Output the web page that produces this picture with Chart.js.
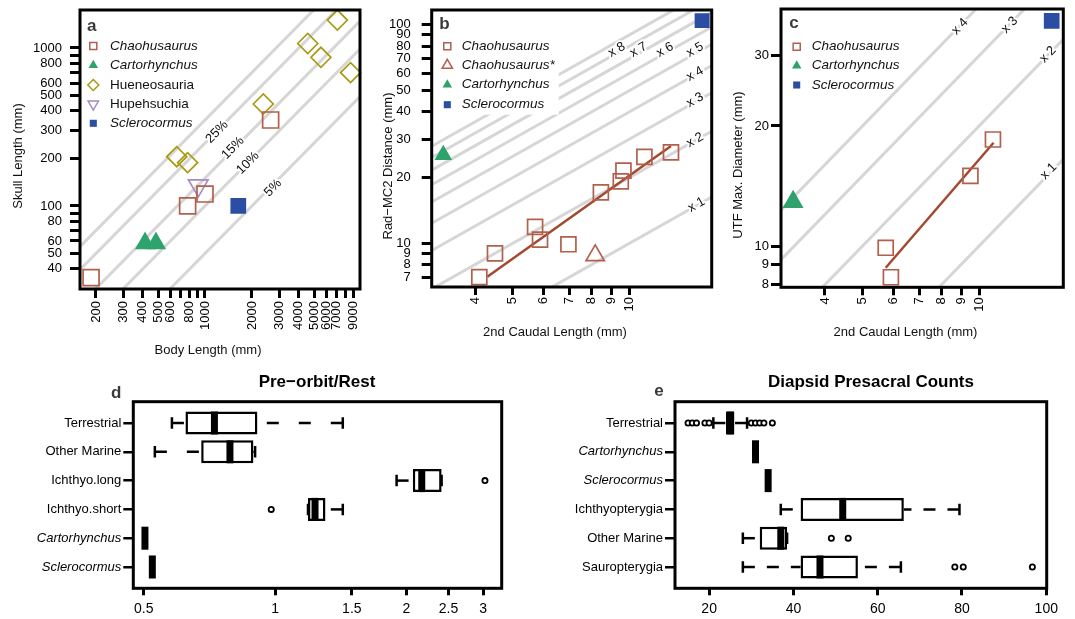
<!DOCTYPE html>
<html>
<head>
<meta charset="utf-8">
<title>Chaohusaurus / Sclerocormus comparison figure</title>
<script src="https://cdn.jsdelivr.net/npm/chart.js@4.4.1/dist/chart.umd.min.js"></script>
<style>
  html, body { margin:0; padding:0; background:#fff; }
  #fig { position:relative; width:1075px; height:619px; overflow:hidden; background:#fff; }
  #fig canvas { position:absolute; }
</style>
</head>
<body>
<div id="fig">
  <canvas id="pa" width="365" height="360" style="left:0;top:0"></canvas>
  <canvas id="pb" width="355" height="345" style="left:365px;top:0"></canvas>
  <canvas id="pc" width="350" height="345" style="left:725px;top:0"></canvas>
  <canvas id="pd" width="540" height="259" style="left:0;top:360px"></canvas>
  <canvas id="pe" width="535" height="259" style="left:540px;top:360px"></canvas>
</div>
<script>
// ================= DATA =================
// Panel a : skull length vs body length (mm)
const aBodyTicks  = [200,300,400,500,600,700,800,900,1000,2000,3000,4000,5000,6000,7000,8000,9000];
const aBodyLabels = ['200','300','400','500','600','','800','','1000','2000','3000','4000','5000','6000','7000','','9000'];
const aSkullTicks  = [40,50,60,70,80,90,100,200,300,400,500,600,700,800,900,1000];
const aSkullLabels = ['40','50','60','','80','','100','200','300','400','500','600','','800','','1000'];
const aChaoBody  = [186, 774, 1000, 2636];
const aChaoSkull = [35.2, 100, 119, 350];
const aCartBody  = [413, 485];
const aCartSkull = [58, 58];
const aHuenBody  = [659, 774, 2365, 4557, 5535, 7058, 8580];
const aHuenSkull = [205, 188, 442, 1068, 873, 1503, 698];
const aHupeBody  = [906];
const aHupeSkull = [134.6];
const aScleBody  = [1635];
const aScleSkull = [100];
const aRatios      = [0.35, 0.25, 0.15, 0.10, 0.05];
const aRatioTexts  = ['25%', '15%', '10%', '5%'];
const aRatioTextBody  = [1194, 1512, 1886, 2729];
const aRatioTextSkull = [294, 233, 187, 130];

// Panel b : Rad-MC2 distance vs 2nd caudal length (mm)
const bCaudalTicks = [4,5,6,7,8,9,10];
const bRadTicks    = [7,8,9,10,20,30,40,50,60,70,80,90,100];
const bChaoCaudal  = [4.1, 4.5, 5.71, 5.88, 6.96, 8.44, 9.5, 9.65, 10.93, 12.8];
const bChaoRad     = [7.0, 9.0, 11.9, 10.4, 9.9, 17.1, 19.2, 21.5, 24.9, 26.1];
const bChaoStarCaudal = [8.16];
const bChaoStarRad    = [8.8];
const bCartCaudal = [3.31];
const bCartRad    = [25.4];
const bScleCaudal = [15.4];
const bScleRad    = [104.6];
const bFitCaudal  = [4.3, 12.8];
const bFitRad     = [7.03, 27.9];
const bMultiples  = [1,2,3,4,5,6,7,8,9];
const bMultTexts  = ['x 8','x 7','x 6','x 5','x 4','x 3','x 2','x 1'];
const bMultTextCaudal = [9.28, 10.55, 12.36, 14.77, 14.77, 14.77, 14.77, 14.9];
const bMultTextRad    = [76.8, 76.8, 76.8, 76.8, 59.6, 45.3, 29.7, 15.0];

// Panel c : UTF max. diameter vs 2nd caudal length (mm)
const cCaudalTicks = [4,5,6,7,8,9,10];
const cUtfTicks    = [8,9,10,20,30];
const cChaoCaudal  = [5.74, 5.92, 9.5, 10.86];
const cChaoUtf     = [9.9, 8.35, 15.0, 18.5];
const cCartCaudal  = [3.31];
const cCartUtf     = [12.9];
const cScleCaudal  = [15.4];
const cScleUtf     = [36.7];
const cFitCaudal   = [5.74, 10.9];
const cFitUtf      = [8.82, 18.16];
const cMultiples   = [1,2,3,4];
const cMultTexts   = ['x 4','x 3','x 2','x 1'];
const cMultTextCaudal = [8.92, 12.0, 15.07, 15.13];
const cMultTextUtf    = [35.5, 35.8, 30.2, 15.4];

// Panel d : Pre-orbit / Rest (box plot statistics)
const dGroups = ['Terrestrial','Other Marine','Ichthyo.long','Ichthyo.short','Cartorhynchus','Sclerocormus'];
const dLow  = [0.58, 0.53, 1.90, 1.19, 0.503, 0.523];
const dQ1   = [0.623, 0.677, 2.07, 1.19, 0.503, 0.523];
const dMed  = [0.726, 0.788, 2.17, 1.235, 0.503, 0.523];
const dQ3   = [0.911, 0.892, 2.41, 1.305, 0.503, 0.523];
const dHigh = [1.43, 0.90, 2.41, 1.43, 0.503, 0.523];
const dOutGroup = [3, 4];
const dOutValue = [3.03, 0.98];
const dTicks  = [0.5, 1, 1.5, 2, 2.5, 3];
const dLabels = ['0.5','1','1.5','2','2.5','3'];

// Panel e : Diapsid presacral counts (box plot statistics)
const eGroups = ['Terrestrial','Cartorhynchus','Sclerocormus','Ichthyopterygia','Other Marine','Sauropterygia'];
const eLow  = [21, 31, 34, 37, 28, 28];
const eQ1   = [24, 31, 34, 41.7, 32, 41.7];
const eMed  = [25, 31, 34, 51.7, 37, 46.3];
const eQ3   = [26, 31, 34, 66.2, 38.5, 55.3];
const eHigh = [29, 31, 34, 79.4, 38.5, 65.5];
const eOutGroup = [1,1,1,1,1,1,1,1,1,1, 5,5, 6,6,6];
const eOutValue = [15,16,17,19,20,30,31,32,33,35, 49,53, 78.3,80.3,96.7];
const eTicks  = [20, 40, 60, 80, 100];
const eLabels = ['20','40','60','80','100'];

const italicNames = ['Chaohusaurus','Chaohusaurus*','Cartorhynchus','Sclerocormus'];

// ================= STYLE =================
const FONT = '"Liberation Sans", Arial, Helvetica, sans-serif';
const GREY = '#d6d6d6';
const COL_CHAO = '#B0604C', COL_FIT = '#A3492F', COL_CART = '#2EA36B',
      COL_HUEN = '#A89A14', COL_HUPE = '#A88BC0', COL_SCLE = '#2B4EA3';
Chart.defaults.font.family = FONT;
Chart.defaults.color = '#000';

function pts(xs, ys) { return xs.map((x, i) => ({ x: x, y: ys[i] })); }

function markers(label, xs, ys, style, color, filled, r, rot) {
  return {
    type: 'scatter', label: label, data: pts(xs, ys), order: 1, clip: false,
    pointStyle: style, pointRadius: r, pointHoverRadius: r, pointRotation: rot || 0,
    pointBorderColor: color, pointBackgroundColor: filled ? color : 'rgba(0,0,0,0)',
    pointBorderWidth: 1.7, borderColor: color, backgroundColor: filled ? color : 'rgba(0,0,0,0)'
  };
}
function guide(k, xmin, xmax) {
  return { type: 'line', data: [{ x: xmin, y: k * xmin }, { x: xmax, y: k * xmax }],
    borderColor: GREY, borderWidth: 3, pointRadius: 0, order: 5, clip: 0, tension: 0 };
}
function fitLine(xs, ys) {
  return { type: 'line', data: pts(xs, ys), borderColor: COL_FIT, borderWidth: 2.5,
    pointRadius: 0, order: 2, clip: 0, tension: 0 };
}

function axis(o) {
  return {
    type: o.type, position: o.pos, min: o.min, max: o.max, reverse: !!o.reverse, offset: false,
    afterBuildTicks: s => { s.ticks = o.ticks.map(v => ({ value: v })); },
    afterFit: s => {
      if (o.pos === 'bottom') s.height = o.size; else s.width = o.size;
      s.paddingLeft = 0; s.paddingRight = 0; s.paddingTop = 0; s.paddingBottom = 0;
    },
    ticks: { autoSkip: false, padding: o.pad, color: '#000', font: o.font,
      callback: o.cb, maxRotation: o.rot || 0, minRotation: o.rot || 0, align: 'center' },
    grid: { display: true, drawOnChartArea: false, drawTicks: true, tickLength: o.tl,
      tickWidth: o.tw, lineWidth: o.tw, tickColor: '#000', color: '#000', offset: false },
    border: { display: false },
    title: { display: false }
  };
}

function shapePath(ctx, style, x, y, r, rot) {
  ctx.beginPath();
  if (style === 'rect') {
    const s = r * Math.SQRT1_2; ctx.rect(x - s, y - s, 2 * s, 2 * s);
  } else if (style === 'rectRot') {
    ctx.moveTo(x, y - r); ctx.lineTo(x + r, y); ctx.lineTo(x, y + r); ctx.lineTo(x - r, y); ctx.closePath();
  } else {
    const a0 = (rot || 0) * Math.PI / 180;
    for (let k = 0; k < 3; k++) {
      const a = a0 + k * 2 * Math.PI / 3;
      const px = x + Math.sin(a) * r, py = y - Math.cos(a) * r;
      if (k === 0) ctx.moveTo(px, py); else ctx.lineTo(px, py);
    }
    ctx.closePath();
  }
}

function makeDeco(cfg) {
  return {
    id: 'deco',
    afterDatasetsDraw(chart) {
      const ctx = chart.ctx, ca = chart.chartArea;
      ctx.save();
      ctx.beginPath(); ctx.rect(ca.left, ca.top, ca.right - ca.left, ca.bottom - ca.top); ctx.clip();
      // labels on the guide lines
      if (cfg.guideTexts) {
        const xs = chart.scales.x, ys = chart.scales.y;
        cfg.guideTexts.forEach(g => {
          const x0 = xs.getPixelForValue(g.x), y0 = ys.getPixelForValue(g.y);
          const x1 = xs.getPixelForValue(g.x * 2), y1 = ys.getPixelForValue(g.y * 2);
          const ang = Math.atan2(y1 - y0, x1 - x0);
          ctx.save(); ctx.translate(x0, y0); ctx.rotate(ang);
          ctx.font = '13px ' + FONT; ctx.textAlign = 'center'; ctx.textBaseline = 'middle';
          ctx.lineWidth = 4; ctx.strokeStyle = '#fff'; ctx.lineJoin = 'round';
          ctx.strokeText(g.text, 0, 0);
          ctx.fillStyle = '#111'; ctx.fillText(g.text, 0, 0);
          ctx.restore();
        });
      }
      ctx.restore();
      // legend
      if (cfg.legend) {
        const L = cfg.legend;
        ctx.save();
        ctx.font = 'italic 13.5px ' + FONT;
        if (L.bg) {
          let w = 0;
          L.items.forEach(it => {
            ctx.font = (it.italic ? 'italic ' : '') + '13.5px ' + FONT;
            w = Math.max(w, ctx.measureText(it.label).width);
          });
          ctx.fillStyle = '#fff';
          const top = L.rows[0] - 11, bot = L.rows[L.rows.length - 1] + 10;
          ctx.fillRect(L.mx - 8, top, L.tx + w + 4 - (L.mx - 8), bot - top);
        }
        L.items.forEach((it, i) => {
          const y = L.rows[i];
          shapePath(ctx, it.style, L.mx, y, it.r, it.rot);
          if (it.filled) { ctx.fillStyle = it.color; ctx.fill(); }
          else { ctx.lineWidth = 1.5; ctx.strokeStyle = it.color; ctx.stroke(); }
          ctx.font = (it.italic ? 'italic ' : '') + '13.5px ' + FONT;
          ctx.fillStyle = '#111'; ctx.textAlign = 'left'; ctx.textBaseline = 'middle';
          ctx.fillText(it.label, L.tx, y);
        });
        ctx.restore();
      }
    },
    afterDraw(chart) {
      const ctx = chart.ctx, ca = chart.chartArea;
      ctx.save();
      ctx.lineWidth = 3; ctx.strokeStyle = '#000';
      ctx.strokeRect(ca.left, ca.top, ca.right - ca.left, ca.bottom - ca.top);
      if (cfg.letter) {
        ctx.font = 'bold 17px ' + FONT; ctx.fillStyle = '#3a3a3a';
        ctx.textAlign = 'left'; ctx.textBaseline = 'alphabetic';
        ctx.fillText(cfg.letter.text, cfg.letter.x, cfg.letter.y);
      }
      if (cfg.title) {
        ctx.font = 'bold 17px ' + FONT; ctx.fillStyle = '#000';
        ctx.textAlign = 'center'; ctx.textBaseline = 'alphabetic';
        ctx.fillText(cfg.title.text, cfg.title.x, cfg.title.y);
      }
      ctx.font = '13px ' + FONT; ctx.fillStyle = '#111';
      ctx.textAlign = 'center'; ctx.textBaseline = 'middle';
      if (cfg.xTitle) ctx.fillText(cfg.xTitle.text, cfg.xTitle.x, cfg.xTitle.y);
      if (cfg.yTitle) {
        ctx.save(); ctx.translate(cfg.yTitle.x, cfg.yTitle.y); ctx.rotate(-Math.PI / 2);
        ctx.fillText(cfg.yTitle.text, 0, 0); ctx.restore();
      }
      ctx.restore();
    }
  };
}

function makeBoxExtras(lo, q1, med, q3, hi, dash) {
  return {
    id: 'boxExtras',
    afterDatasetsDraw(chart) {
      const ctx = chart.ctx, xs = chart.scales.x, ys = chart.scales.y;
      const step = Math.abs(ys.getPixelForValue(2) - ys.getPixelForValue(1));
      const half = step * 0.4, cap = half * 0.5;
      ctx.save();
      ctx.strokeStyle = '#000'; ctx.lineCap = 'butt';
      for (let i = 0; i < q1.length; i++) {
        const py = ys.getPixelForValue(i + 1);
        const X = v => xs.getPixelForValue(v);
        ctx.lineWidth = 2.5;
        ctx.setLineDash(dash);
        if (lo[i] < q1[i]) { ctx.beginPath(); ctx.moveTo(X(lo[i]), py); ctx.lineTo(X(q1[i]), py); ctx.stroke(); }
        if (hi[i] > q3[i]) { ctx.beginPath(); ctx.moveTo(X(hi[i]), py); ctx.lineTo(X(q3[i]), py); ctx.stroke(); }
        ctx.setLineDash([]);
        ctx.beginPath();
        ctx.moveTo(X(lo[i]), py - cap); ctx.lineTo(X(lo[i]), py + cap);
        ctx.moveTo(X(hi[i]), py - cap); ctx.lineTo(X(hi[i]), py + cap);
        ctx.stroke();
        ctx.lineWidth = 7;
        ctx.beginPath(); ctx.moveTo(X(med[i]), py - half); ctx.lineTo(X(med[i]), py + half); ctx.stroke();
      }
      ctx.restore();
    }
  };
}

const base = (pad) => ({
  responsive: false, animation: false, devicePixelRatio: 1, events: [],
  layout: { padding: pad, autoPadding: false },
  plugins: { legend: { display: false }, tooltip: { enabled: false }, title: { display: false } }
});
const f13 = { family: FONT, size: 13 };
const f14 = { family: FONT, size: 14 };

// ================= PANEL A =================
(function () {
  const xmin = 158, xmax = 9860;
  const ds = aRatios.map(k => guide(k, xmin, xmax));
  ds.push(markers('Chaohusaurus', aChaoBody, aChaoSkull, 'rect', COL_CHAO, false, 11.3));
  ds.push(markers('Cartorhynchus', aCartBody, aCartSkull, 'triangle', COL_CART, true, 10));
  ds.push(markers('Hueneosauria', aHuenBody, aHuenSkull, 'rectRot', COL_HUEN, false, 10));
  ds.push(markers('Hupehsuchia', aHupeBody, aHupeSkull, 'triangle', COL_HUPE, false, 11.3, 180));
  ds.push(markers('Sclerocormus', aScleBody, aScleSkull, 'rect', COL_SCLE, true, 9.9));
  const opts = base({ left: 0, top: 10, right: 5, bottom: 0 });
  opts.scales = {
    x: axis({ type: 'logarithmic', pos: 'bottom', min: xmin, max: xmax, ticks: aBodyTicks,
      cb: (v, i) => aBodyLabels[i], rot: 90, size: 71, pad: 3, tl: 9, tw: 3, font: f13 }),
    y: axis({ type: 'logarithmic', pos: 'left', min: 29.8, max: 1740, ticks: aSkullTicks,
      cb: (v, i) => aSkullLabels[i], size: 80, pad: 8, tl: 10, tw: 3, font: f13 })
  };
  new Chart(document.getElementById('pa'), {
    type: 'scatter', data: { datasets: ds }, options: opts,
    plugins: [makeDeco({
      letter: { text: 'a', x: 87, y: 31 },
      xTitle: { text: 'Body Length (mm)', x: 208, y: 350 },
      yTitle: { text: 'Skull Length (mm)', x: 18, y: 156 },
      guideTexts: aRatioTexts.map((t, i) => ({ text: t, x: aRatioTextBody[i], y: aRatioTextSkull[i] })),
      legend: { mx: 93.3, tx: 110, rows: [46, 65.3, 85, 104, 123.3], bg: false, items: [
        { label: 'Chaohusaurus', italic: true, style: 'rect', color: COL_CHAO, filled: false, r: 5 },
        { label: 'Cartorhynchus', italic: true, style: 'triangle', color: COL_CART, filled: true, r: 5.5 },
        { label: 'Hueneosauria', italic: false, style: 'rectRot', color: COL_HUEN, filled: false, r: 5.5 },
        { label: 'Hupehsuchia', italic: false, style: 'triangle', color: COL_HUPE, filled: false, r: 6, rot: 180 },
        { label: 'Sclerocormus', italic: true, style: 'rect', color: COL_SCLE, filled: true, r: 5 }
      ] }
    })]
  });
})();

// ================= PANEL B =================
(function () {
  const xmin = 3.09, xmax = 16.3;
  const ds = bMultiples.map(k => guide(k, xmin, xmax));
  ds.push(fitLine(bFitCaudal, bFitRad));
  ds.push(markers('Chaohusaurus', bChaoCaudal, bChaoRad, 'rect', COL_CHAO, false, 10.6));
  ds.push(markers('Chaohusaurus*', bChaoStarCaudal, bChaoStarRad, 'triangle', COL_CHAO, false, 10.5));
  ds.push(markers('Cartorhynchus', bCartCaudal, bCartRad, 'triangle', COL_CART, true, 8.5));
  ds.push(markers('Sclerocormus', bScleCaudal, bScleRad, 'rect', COL_SCLE, true, 9.4));
  const opts = base({ left: 0, top: 10, right: 8.3, bottom: 0 });
  opts.scales = {
    x: axis({ type: 'logarithmic', pos: 'bottom', min: xmin, max: xmax, ticks: bCaudalTicks,
      cb: v => String(v), rot: 90, size: 58, pad: 2, tl: 8, tw: 3, font: f13 }),
    y: axis({ type: 'logarithmic', pos: 'left', min: 6.31, max: 117, ticks: bRadTicks,
      cb: v => String(v), size: 66.7, pad: 11, tl: 10, tw: 3, font: f13 })
  };
  new Chart(document.getElementById('pb'), {
    type: 'scatter', data: { datasets: ds }, options: opts,
    plugins: [makeDeco({
      letter: { text: 'b', x: 74.3, y: 29 },
      xTitle: { text: '2nd Caudal Length (mm)', x: 190, y: 332 },
      yTitle: { text: 'Rad\u2212MC2 Distance (mm)', x: 23.3, y: 166 },
      guideTexts: bMultTexts.map((t, i) => ({ text: t, x: bMultTextCaudal[i], y: bMultTextRad[i] })),
      legend: { mx: 82.3, tx: 96.7, rows: [46.3, 65.3, 84.7, 104.7], bg: true, items: [
        { label: 'Chaohusaurus', italic: true, style: 'rect', color: COL_CHAO, filled: false, r: 5 },
        { label: 'Chaohusaurus*', italic: true, style: 'triangle', color: COL_CHAO, filled: false, r: 6 },
        { label: 'Cartorhynchus', italic: true, style: 'triangle', color: COL_CART, filled: true, r: 5.5 },
        { label: 'Sclerocormus', italic: true, style: 'rect', color: COL_SCLE, filled: true, r: 5 }
      ] }
    })]
  });
})();

// ================= PANEL C =================
(function () {
  const xmin = 3.08, xmax = 16.5;
  const ds = cMultiples.map(k => guide(k, xmin, xmax));
  ds.push(fitLine(cFitCaudal, cFitUtf));
  ds.push(markers('Chaohusaurus', cChaoCaudal, cChaoUtf, 'rect', COL_CHAO, false, 10.6));
  ds.push(markers('Cartorhynchus', cCartCaudal, cCartUtf, 'triangle', COL_CART, true, 10.4));
  ds.push(markers('Sclerocormus', cScleCaudal, cScleUtf, 'rect', COL_SCLE, true, 9.9));
  const opts = base({ left: 0, top: 9, right: 11.7, bottom: 0 });
  opts.scales = {
    x: axis({ type: 'logarithmic', pos: 'bottom', min: xmin, max: xmax, ticks: cCaudalTicks,
      cb: v => String(v), rot: 90, size: 57.7, pad: 2, tl: 8, tw: 3, font: f13 }),
    y: axis({ type: 'logarithmic', pos: 'left', min: 7.88, max: 39.3, ticks: cUtfTicks,
      cb: v => String(v), size: 56, pad: 2, tl: 10, tw: 3, font: f13 })
  };
  new Chart(document.getElementById('pc'), {
    type: 'scatter', data: { datasets: ds }, options: opts,
    plugins: [makeDeco({
      letter: { text: 'c', x: 64.3, y: 27.5 },
      xTitle: { text: '2nd Caudal Length (mm)', x: 180.5, y: 332 },
      yTitle: { text: 'UTF Max. Diameter (mm)', x: 13.5, y: 165 },
      guideTexts: cMultTexts.map((t, i) => ({ text: t, x: cMultTextCaudal[i], y: cMultTextUtf[i] })),
      legend: { mx: 71.7, tx: 86.7, rows: [46.7, 65.7, 85], bg: false, items: [
        { label: 'Chaohusaurus', italic: true, style: 'rect', color: COL_CHAO, filled: false, r: 5 },
        { label: 'Cartorhynchus', italic: true, style: 'triangle', color: COL_CART, filled: true, r: 5.5 },
        { label: 'Sclerocormus', italic: true, style: 'rect', color: COL_SCLE, filled: true, r: 5 }
      ] }
    })]
  });
})();

// ================= BOX PLOTS =================
function boxChart(id, groups, lo, q1, med, q3, hi, outG, outV, xAxisCfg, pad, yWidth, deco, dash) {
  const yFont = c => {
    const name = c && c.tick ? groups[Math.round(c.tick.value) - 1] : '';
    return { family: FONT, size: 13, style: italicNames.indexOf(name) >= 0 ? 'italic' : 'normal' };
  };
  const yAx = axis({ type: 'linear', pos: 'left', min: 0.26, max: 6.74, reverse: true,
    ticks: groups.map((g, i) => i + 1), cb: v => groups[Math.round(v) - 1],
    size: yWidth, pad: 2, tl: 10, tw: 2.5, font: f13 });
  yAx.ticks.font = yFont;
  const opts = base(pad);
  opts.indexAxis = 'y';
  opts.scales = { x: xAxisCfg, y: yAx };
  new Chart(document.getElementById(id), {
    type: 'bar',
    data: { datasets: [
      { type: 'bar', indexAxis: 'y', order: 2,
        data: groups.map((g, i) => ({ x: [q1[i], q3[i]], y: i + 1 })),
        backgroundColor: '#fff', borderColor: '#000', borderWidth: 2.5, borderSkipped: false,
        barPercentage: 0.8, categoryPercentage: 1 },
      { type: 'scatter', indexAxis: 'x', order: 1,
        data: outV.map((v, i) => ({ x: v, y: outG[i] })),
        pointStyle: 'circle', pointRadius: 2.6, pointBorderWidth: 1.8,
        pointBorderColor: '#000', pointBackgroundColor: '#fff', clip: false }
    ] },
    options: opts,
    plugins: [makeBoxExtras(lo, q1, med, q3, hi, dash), makeDeco(deco)]
  });
}

boxChart('pd', dGroups, dLow, dQ1, dMed, dQ3, dHigh, dOutGroup, dOutValue,
  axis({ type: 'logarithmic', pos: 'bottom', min: 0.473, max: 3.31, ticks: dTicks,
    cb: (v, i) => dLabels[i], size: 30.7, pad: 5, tl: 7, tw: 3, font: f14 }),
  { left: 0, top: 41.7, right: 38.3, bottom: 0 }, 133.3,
  { letter: { text: 'd', x: 111, y: 37.5 }, title: { text: 'Pre\u2212orbit/Rest', x: 317, y: 26.5 } },
  [12, 20]);

boxChart('pe', eGroups, eLow, eQ1, eMed, eQ3, eHigh, eOutGroup, eOutValue,
  axis({ type: 'linear', pos: 'bottom', min: 11.9, max: 100.1, ticks: eTicks,
    cb: (v, i) => eLabels[i], size: 30.7, pad: 5, tl: 7, tw: 3, font: f14 }),
  { left: 0, top: 41.7, right: 28.3, bottom: 0 }, 135,
  { letter: { text: 'e', x: 114.3, y: 35.7 }, title: { text: 'Diapsid Presacral Counts', x: 331, y: 26.5 } },
  [12, 12]);
</script>
</body>
</html>
